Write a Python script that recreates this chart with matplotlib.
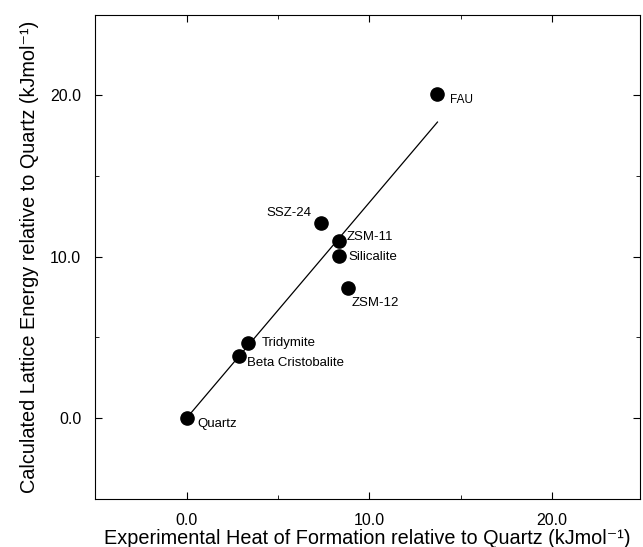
import matplotlib
matplotlib.use('Agg')
import matplotlib.pyplot as plt
from matplotlib.ticker import MultipleLocator, FormatStrFormatter

plt.rcParams['font.family'] = ['Liberation Sans', 'DejaVu Sans']

# data
names = ['Quartz', 'Beta Cristobalite', 'Tridymite', 'SSZ-24', 'ZSM-11',
         'Silicalite', 'ZSM-12', 'FAU']
exp_heat = [0.0, 2.85, 3.34, 7.34, 8.32, 8.32, 8.81, 13.73]
calc_energy = [0.0, 3.86, 4.63, 12.09, 10.98, 10.07, 8.09, 20.12]
fit_x = [0.0, 13.73]
fit_y = [0.0, 18.35]

# label offsets in points (dx, dy) and alignment
offs = [(8, -4), (6, -5), (10, 0), (-7, 7), (6, 3), (7, -1), (3, -11), (9, -5)]
has = ['left', 'left', 'left', 'right', 'left', 'left', 'left', 'left']

fig = plt.figure(figsize=(6.43, 5.47), dpi=100)
ax = fig.add_axes([0.148, 0.088, 0.847, 0.885])

ax.plot(fit_x, fit_y, color='black', lw=0.9)
ax.plot(exp_heat, calc_energy, 'o', color='black', ms=9.5, zorder=3)

for n, xx, yy, (dx, dy), h in zip(names, exp_heat, calc_energy, offs, has):
    fs = 8.5 if n == 'FAU' else 9.5
    ax.annotate(n, (xx, yy), xytext=(dx, dy), textcoords='offset points',
                fontsize=fs, ha=h, va='center')

ax.set_xlim(-5, 24.8)
ax.set_ylim(-5, 25)
ax.xaxis.set_major_locator(MultipleLocator(10))
ax.xaxis.set_minor_locator(MultipleLocator(5))
ax.yaxis.set_major_locator(MultipleLocator(10))
ax.yaxis.set_minor_locator(MultipleLocator(5))
ax.xaxis.set_major_formatter(FormatStrFormatter('%.1f'))
ax.yaxis.set_major_formatter(FormatStrFormatter('%.1f'))
ax.tick_params(which='both', direction='in', top=True, right=True, labelsize=11.5)
ax.tick_params(which='major', length=5, pad=10)
ax.tick_params(which='minor', length=3)

ax.set_xlabel('Experimental Heat of Formation relative to Quartz (kJmol\u207b\u00b9)',
              fontsize=14.3, labelpad=1)
ax.set_ylabel('Calculated Lattice Energy relative to Quartz (kJmol\u207b\u00b9)',
              fontsize=14.3, labelpad=8)

fig.savefig('out.png', dpi=100)
